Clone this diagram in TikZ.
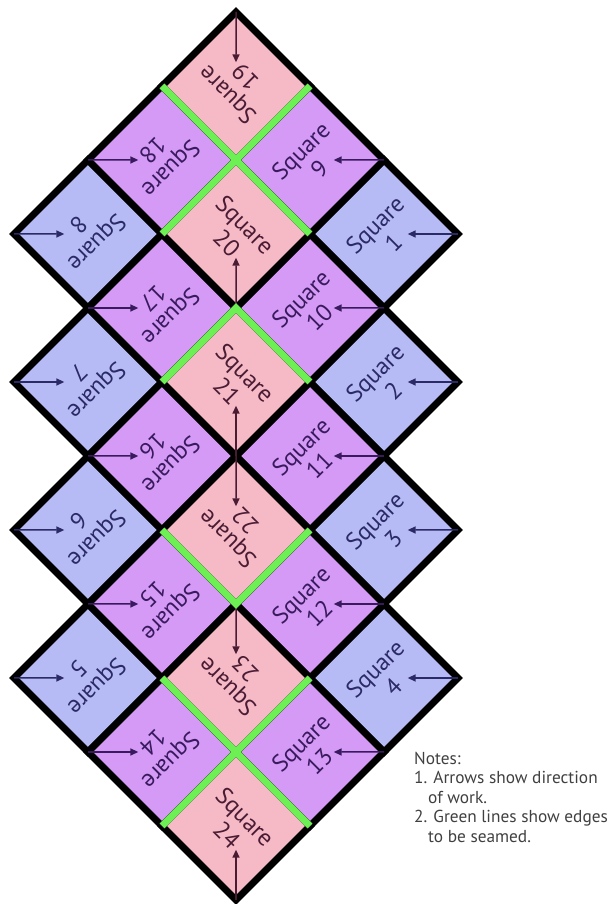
\documentclass[tikz,border=0pt]{standalone}
\usepackage{fontspec}
\setmainfont{PT Sans}
\usetikzlibrary{arrows.meta,calc}
\definecolor{fillpink}{HTML}{F6BAC6}
\definecolor{fillpurple}{HTML}{D49AF6}
\definecolor{fillblue}{HTML}{B6BBF6}
\definecolor{inkpink}{HTML}{4A1C34}
\definecolor{inkpurple}{HTML}{3A1A5E}
\definecolor{inkblue}{HTML}{2A2A66}
\definecolor{seamgreen}{HTML}{6CF054}
\definecolor{notegray}{HTML}{404040}

\tikzset{
  tile/.style={rectangle,draw=black,line width=7pt,minimum size=104.65pt,
    inner sep=0pt,outer sep=0pt,align=center,font=\fontsize{24}{26}\selectfont},
  tilepink/.style={tile,fill=fillpink,text=inkpink},
  tilepurple/.style={tile,fill=fillpurple,text=inkpurple},
  tileblue/.style={tile,fill=fillblue,text=inkblue},
  workarrow/.style={line width=1.5pt,-{Triangle[length=8pt,width=7pt]}},
  seam/.style={draw=seamgreen,line width=7pt},
  notes/.style={anchor=north west,inner sep=0pt,align=left,text=notegray,
    font=\fontsize{17.3}{19.5}\selectfont}
}

% number/column/row/rotation/colour
\def\tilelist{1/2/9/45/blue,2/2/7/45/blue,3/2/5/45/blue,4/2/3/45/blue,
  5/-2/3/-135/blue,6/-2/5/-135/blue,7/-2/7/-135/blue,8/-2/9/-135/blue,
  9/1/10/45/purple,10/1/8/45/purple,11/1/6/45/purple,12/1/4/45/purple,13/1/2/45/purple,
  14/-1/2/-135/purple,15/-1/4/-135/purple,16/-1/6/-135/purple,17/-1/8/-135/purple,18/-1/10/-135/purple,
  19/0/11/135/pink,20/0/9/-45/pink,21/0/7/-45/pink,22/0/5/135/pink,23/0/3/135/pink,24/0/1/-45/pink}

\begin{document}
\begin{tikzpicture}
  \useasboundingbox (0,0) rectangle (613pt,904pt);
  \begin{scope}[shift={(236pt,4pt)},x=74pt,y=74pt]
    % squares
    \foreach \n/\i/\j/\r/\s in \tilelist
      \node[tile\s,rotate=\r] (sq\n) at (\i,\j) {Square\\\n};
    % direction of work
    \foreach \n/\i/\j/\r/\s in \tilelist
      \draw[workarrow,ink\s] (sq\n.south east) -- ($(sq\n.south east)!0.68!(sq\n.center)$);
    % seams
    \draw[seam] (-1,11) -- (1,9) (1,11) -- (-1,9);
    \draw[seam] (-1,7) -- (0,8) -- (1,7);
    \draw[seam] (-1,5) -- (0,4) -- (1,5);
    \draw[seam] (-1,3) -- (1,1) (1,3) -- (-1,1);
  \end{scope}
  \node[notes] (notes) at (414pt,152pt) {Notes:\\1. Arrows show direction\\
    \hspace*{14pt}of work.\\2. Green lines show edges\\\hspace*{14pt}to be seamed.};
\end{tikzpicture}
\end{document}
